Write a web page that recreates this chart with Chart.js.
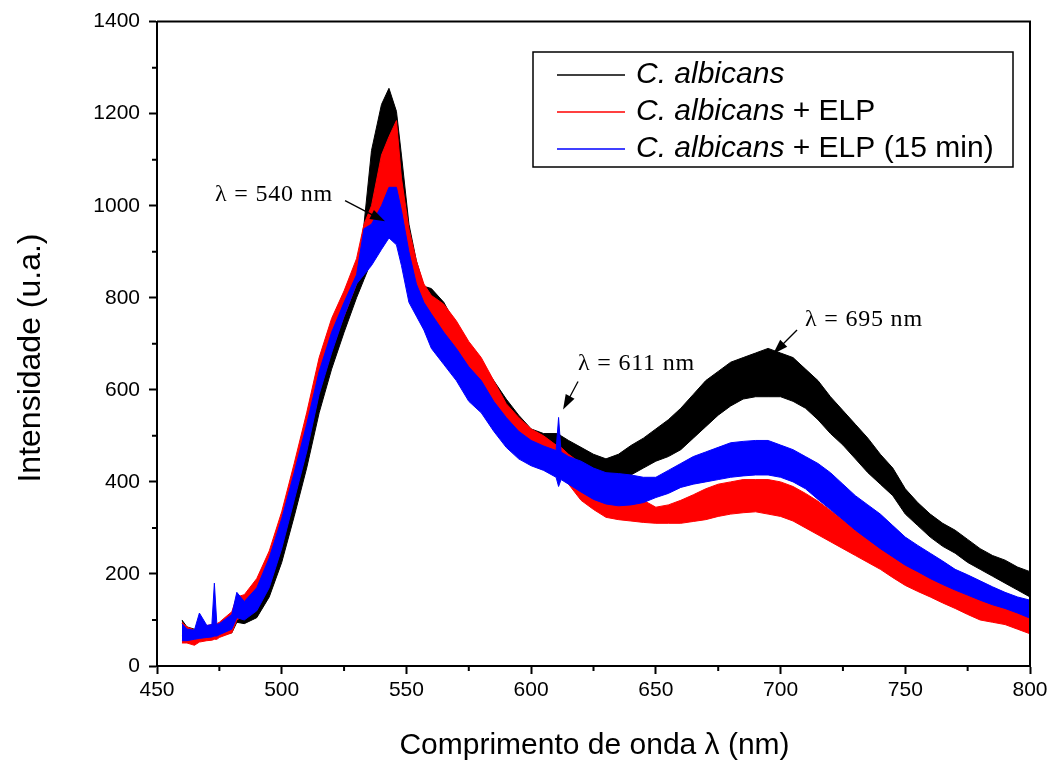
<!DOCTYPE html>
<html>
<head>
<meta charset="utf-8">
<script src="https://cdn.jsdelivr.net/npm/chart.js@4"></script>
<style>
  html, body { margin: 0; padding: 0; background: #fff; }
  #wrap { width: 1057px; height: 766px; }
</style>
</head>
<body>
<div id="wrap"><canvas id="spectrum" width="1057" height="766"></canvas></div>
<script>
const wavelengths = [460, 462, 465, 467, 470, 472, 473, 474, 475,
  480, 482, 485, 490, 495, 500, 505, 510, 515, 520, 525, 530,
  533, 536, 540, 543, 546, 548, 551, 554, 557, 560,
  565, 570, 575, 580, 585, 590, 595, 600, 605, 610,
  611, 612,
  615, 620, 625, 630, 635, 640, 645, 650, 655, 660, 665, 670, 675, 680, 685, 690, 695,
  700, 705, 710, 715, 720, 725, 730, 735, 740, 745, 750, 755, 760, 765, 770, 775, 780,
  785, 790, 795, 800];

// C. albicans (black) - lower / upper edge of the noisy trace
const albicansLow = [65, 58, 60, 62, 63, 64, 65, 65, 66,
  72, 95, 92, 105, 150, 225, 325, 430, 550, 645, 725, 800,
  840, 880, 940, 980, 960, 920, 860, 810, 770, 740,
  700, 660, 620, 580, 545, 510, 480, 460, 450, 440,
  438, 436,
  430, 415, 405, 400, 405, 415, 430, 445, 455, 470, 495, 520, 545, 565, 580, 585, 585,
  585, 575, 560, 535, 505, 480, 450, 420, 395, 370, 330, 305, 280, 260, 245, 225, 210,
  195, 180, 165, 150];
const albicansHigh = [100, 85, 80, 82, 85, 87, 88, 88, 92,
  110, 140, 125, 140, 195, 290, 395, 500, 620, 720, 790, 860,
  960, 1120, 1220, 1255, 1205, 1110, 960, 880, 825, 820,
  790, 740, 700, 660, 620, 580, 545, 515, 505, 505,
  505, 500,
  490, 475, 460, 450, 460, 479, 495, 515, 535, 560, 590, 620, 640, 660, 670, 680, 690,
  680, 670, 645, 620, 585, 555, 525, 495, 460, 430, 385, 355, 330, 310, 295, 275, 255,
  240, 230, 215, 205];

// C. albicans + ELP (red)
const elpLow = [50, 50, 45, 52, 55, 56, 58, 58, 62,
  72, 100, 110, 130, 185, 275, 380, 490, 600, 690, 760, 830,
  880, 920, 960, 990, 980, 950, 880, 830, 780, 740,
  700, 660, 620, 590, 550, 510, 480, 450, 430, 420,
  415, 410,
  395, 360, 340, 323, 318, 315, 312, 310, 310, 310, 314, 318, 325, 330, 333, 335, 330,
  325, 315, 300, 285, 270, 255, 240, 225, 210, 192, 175, 162, 150, 137, 125, 112, 100,
  95, 90, 80, 70];
const elpHigh = [95, 85, 78, 82, 88, 90, 92, 92, 95,
  118, 150, 155, 190, 250, 335, 440, 550, 670, 755, 815, 885,
  960, 1000, 1110, 1150, 1185, 1060, 950, 880, 830, 805,
  786, 750, 705, 670, 620, 570, 540, 515, 500, 480,
  478, 475,
  460, 440, 420, 400, 385, 378, 360, 345, 350, 360, 372, 385, 395, 400, 405, 405, 405,
  400, 390, 375, 358, 338, 318, 295, 278, 260, 245, 230, 212, 195, 182, 170, 162, 154,
  145, 135, 128, 121];

// C. albicans + ELP (15 min) (blue)
const elp15Low = [55, 55, 58, 60, 62, 63, 65, 65, 68,
  80, 105, 100, 120, 170, 255, 360, 465, 590, 680, 760, 830,
  850, 870, 905, 930, 915, 870, 790, 760, 730, 690,
  655, 620, 575, 550, 510, 475, 450, 435, 425, 410,
  390, 405,
  395, 378, 362, 352, 348, 350, 355, 366, 375, 388, 395, 400, 405, 410, 413, 415, 415,
  410, 400, 385, 362, 340, 318, 295, 275, 255, 237, 219, 205, 190, 177, 165, 154, 143,
  133, 125, 115, 104];
const elp15High = [92, 80, 78, 115, 88, 90, 180, 90, 92,
  112, 160, 140, 170, 235, 320, 420, 525, 640, 725, 790, 850,
  950, 960, 1000, 1040, 1040, 990, 900, 830, 790, 765,
  725, 690, 650, 620, 575, 540, 510, 490, 478, 468,
  540, 465,
  455, 445, 430, 420, 418, 415, 410, 410, 425, 440, 455, 465, 475, 485, 488, 490, 490,
  480, 470, 455, 440, 420, 395, 370, 350, 330, 305, 280, 262, 245, 228, 210, 198, 185,
  172, 160, 150, 143];

const xTickValues = [450, 500, 550, 600, 650, 700, 750, 800];
const yTickValues = [0, 200, 400, 600, 800, 1000, 1200, 1400];
const xMinorTicks = [475, 525, 575, 625, 675, 725, 775];
const yMinorTicks = [100, 300, 500, 700, 900, 1100, 1300];

const seriesNames = ['C. albicans', 'C. albicans + ELP', 'C. albicans + ELP (15 min)'];
const seriesColors = ['#000000', '#ff0000', '#0000ff'];

// peak labels: text anchor, arrow tail and arrow tip in data units
const peakNotes = [
  { text: 'λ = 540 nm', tx: 473.3, ty: 1024, x1: 525.4, y1: 1011, x2: 541.4, y2: 966 },
  { text: 'λ = 611 nm', tx: 618.8, ty: 657, x1: 618.8, y1: 618, x2: 612.8, y2: 557 },
  { text: 'λ = 695 nm', tx: 709.8, ty: 752, x1: 706.6, y1: 730, x2: 697, y2: 678 }
];

function pts(values) {
  return wavelengths.map((w, i) => ({ x: w, y: values[i] }));
}

// each trace is a band between its lower and upper edge
function band(low, high, color) {
  return [
    { data: pts(high), borderColor: color, backgroundColor: color, borderWidth: 1,
      pointRadius: 0, tension: 0, fill: '+1' },
    { data: pts(low), borderColor: color, backgroundColor: color, borderWidth: 1,
      pointRadius: 0, tension: 0, fill: false }
  ];
}

// index 0 is drawn last, so blue first
const datasets = [
  ...band(elp15Low, elp15High, seriesColors[2]),
  ...band(elpLow, elpHigh, seriesColors[1]),
  ...band(albicansLow, albicansHigh, seriesColors[0])
];

function arrow(ctx, x1, y1, x2, y2) {
  const a = Math.atan2(y2 - y1, x2 - x1);
  const len = 15, half = 5;
  ctx.beginPath();
  ctx.moveTo(x1, y1);
  ctx.lineTo(x2 - Math.cos(a) * len * 0.8, y2 - Math.sin(a) * len * 0.8);
  ctx.stroke();
  ctx.beginPath();
  ctx.moveTo(x2, y2);
  ctx.lineTo(x2 - Math.cos(a) * len - Math.sin(a) * half, y2 - Math.sin(a) * len + Math.cos(a) * half);
  ctx.lineTo(x2 - Math.cos(a) * len + Math.sin(a) * half, y2 - Math.sin(a) * len - Math.cos(a) * half);
  ctx.closePath();
  ctx.fill();
}

const decorations = {
  id: 'decorations',
  afterDraw(chart) {
    const ctx = chart.ctx;
    const area = chart.chartArea;
    const xs = chart.scales.x, ys = chart.scales.y;
    ctx.save();
    ctx.strokeStyle = '#000';
    ctx.fillStyle = '#000';

    // top and right edges of the frame
    ctx.lineWidth = 2;
    ctx.beginPath();
    ctx.moveTo(area.left, area.top);
    ctx.lineTo(area.right, area.top);
    ctx.lineTo(area.right, area.bottom);
    ctx.stroke();

    // minor ticks
    ctx.beginPath();
    xMinorTicks.forEach(v => {
      const px = xs.getPixelForValue(v);
      ctx.moveTo(px, area.bottom);
      ctx.lineTo(px, area.bottom + 5);
    });
    yMinorTicks.forEach(v => {
      const py = ys.getPixelForValue(v);
      ctx.moveTo(area.left, py);
      ctx.lineTo(area.left - 5, py);
    });
    ctx.stroke();

    // axis titles
    ctx.font = '30px "Liberation Sans", Arial, sans-serif';
    ctx.textAlign = 'center';
    ctx.textBaseline = 'middle';
    ctx.fillText('Comprimento de onda λ (nm)', (area.left + area.right) / 2 + 1, 746);
    ctx.save();
    ctx.translate(31, 358);
    ctx.rotate(-Math.PI / 2);
    ctx.font = '32px "Liberation Sans", Arial, sans-serif';
    ctx.fillText('Intensidade (u.a.)', 0, 0);
    ctx.restore();

    // peak labels
    ctx.font = '24px "Liberation Serif", "Times New Roman", serif';
    ctx.textAlign = 'left';
    ctx.lineWidth = 1.3;
    peakNotes.forEach(n => {
      ctx.letterSpacing = '0.8px';
      ctx.fillText(n.text, xs.getPixelForValue(n.tx), ys.getPixelForValue(n.ty));
      ctx.letterSpacing = '0px';
      arrow(ctx, xs.getPixelForValue(n.x1), ys.getPixelForValue(n.y1),
        xs.getPixelForValue(n.x2), ys.getPixelForValue(n.y2));
    });

    // legend box
    ctx.lineWidth = 1.5;
    ctx.strokeRect(533, 52, 480, 115);
    const rows = [75, 112, 149];
    seriesNames.forEach((name, i) => {
      ctx.strokeStyle = seriesColors[i];
      ctx.beginPath();
      ctx.moveTo(557, rows[i]);
      ctx.lineTo(625, rows[i]);
      ctx.stroke();
      ctx.fillStyle = '#000';
      ctx.textBaseline = 'middle';
      const species = 'C. albicans';
      ctx.font = 'italic 30px "Liberation Sans", Arial, sans-serif';
      ctx.fillText(species, 636, rows[i]);
      const w = ctx.measureText(species).width;
      ctx.font = '30px "Liberation Sans", Arial, sans-serif';
      ctx.fillText(name.slice(species.length), 636 + w, rows[i]);
    });
    ctx.restore();
  }
};

new Chart(document.getElementById('spectrum'), {
  type: 'line',
  data: { datasets: datasets },
  options: {
    responsive: false,
    animation: false,
    layout: { padding: { top: 18, right: 27, left: 0, bottom: 0 } },
    plugins: { legend: { display: false }, tooltip: { enabled: false } },
    scales: {
      x: {
        type: 'linear', min: 450, max: 800,
        afterBuildTicks: s => { s.ticks = xTickValues.map(v => ({ value: v })); },
        afterFit: s => { s.height = 100; },
        ticks: { color: '#000', padding: 4, maxRotation: 0, callback: v => String(v),
          font: { family: '"Liberation Sans", Arial, sans-serif', size: 21 } },
        grid: { drawOnChartArea: false, drawTicks: true, tickLength: 8, tickWidth: 2, tickColor: '#000' },
        border: { display: true, color: '#000', width: 2 }
      },
      y: {
        min: 0, max: 1400,
        afterBuildTicks: s => { s.ticks = yTickValues.map(v => ({ value: v })); },
        afterFit: s => { s.width = 157; },
        ticks: { color: '#000', padding: 9, callback: v => String(v),
          font: { family: '"Liberation Sans", Arial, sans-serif', size: 21 } },
        grid: { drawOnChartArea: false, drawTicks: true, tickLength: 8, tickWidth: 2, tickColor: '#000' },
        border: { display: true, color: '#000', width: 2 }
      }
    }
  },
  plugins: [decorations]
});
</script>
</body>
</html>
